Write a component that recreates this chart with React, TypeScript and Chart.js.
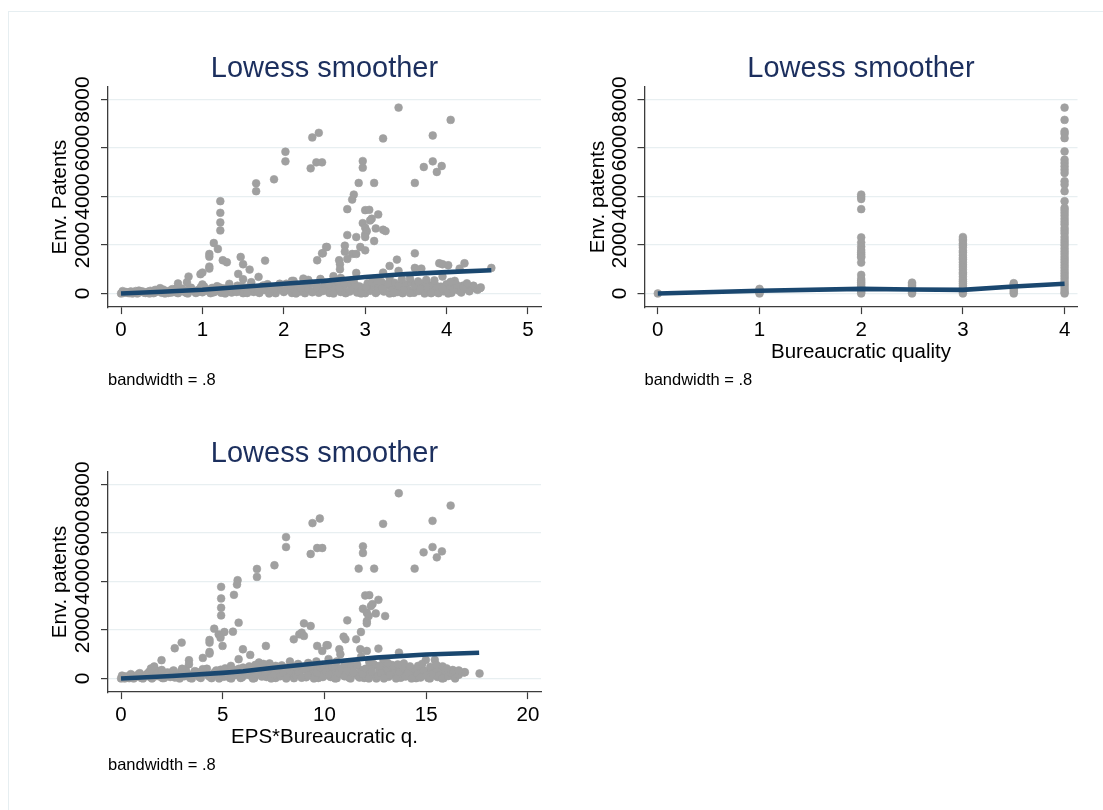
import React, { useEffect, useRef } from 'react';
import { Chart, registerables } from 'chart.js';

Chart.register(...registerables);

const FONT = '"Liberation Sans", Arial, Helvetica, sans-serif';
const NAVY = '#1a476f';
const TITLE_COLOR = '#1c2f5e';
const MARKER = '#a0a0a0';
const AXIS = '#3c3c3c';
const GRID = '#e8eff1';

const titleText = 'Lowess smoother';
const noteText = 'bandwidth = .8';

const patentTicks = [0, 2000, 4000, 6000, 8000];
const epsTicks = [0, 1, 2, 3, 4, 5];
const bqTicks = [0, 1, 2, 3, 4];
const epsBqTicks = [0, 5, 10, 15, 20];

// Panel 1: EPS vs Env. Patents
const epsOutliers: [number, number][] = [
  [1.22, 3809], [1.22, 3329], [1.22, 2932], [1.22, 2603], [1.14, 2082], [1.19, 1836], [1.085, 1630], [1.085, 1520],
  [1.085, 1110], [1.085, 1027], [1.25, 1370], [1.3, 1288], [1.47, 1507], [1.5, 1205], [1.58, 986], [1.44, 808],
  [1.5, 589], [1.77, 1356], [1.66, 4548], [1.66, 4220], [1.88, 4713], [2.02, 5850], [2.02, 5453], [2.35, 6439],
  [2.43, 6631], [2.33, 5165], [2.4, 5412], [2.47, 5412], [2.52, 1918], [2.47, 1658], [2.41, 1370], [0.81, 466],
  [0.83, 699], [0.7, 411], [0.976, 795], [1.0, 863], [1.0, 370], [1.33, 397], [1.69, 685], [1.6, 466], [2.12, 520],
  [2.24, 616], [0.48, 219], [3.41, 7672], [4.05, 7165], [3.22, 6398], [3.83, 6521], [2.97, 5466], [2.97, 5192],
  [3.72, 5220], [3.83, 5453], [3.94, 5261], [3.88, 5014], [2.92, 4562], [3.11, 4562], [3.61, 4562], [2.86, 4083],
  [2.84, 3877], [2.78, 3480], [3.0, 3439], [3.05, 3452], [3.16, 3261], [3.08, 3083], [3.06, 3014], [2.97, 2904],
  [3.0, 2712], [3.02, 2576], [3.0, 2439], [3.13, 2685], [3.22, 2630], [3.25, 2576], [3.0, 2329], [3.11, 2165],
  [2.78, 2411], [2.89, 2329], [2.75, 1973], [2.94, 1918], [3.0, 1781], [2.53, 1918], [2.48, 1658], [2.75, 1726],
  [2.84, 1630], [2.89, 1630], [2.68, 1370], [2.69, 1205], [2.69, 1000], [2.78, 1425], [2.89, 849], [3.39, 1397],
  [3.3, 1137], [3.61, 1658], [3.61, 1055], [3.69, 1027], [3.91, 1247], [3.95, 1205], [4.02, 1164], [4.22, 1247],
  [4.16, 1027], [4.55, 1055], [4.41, 219], [4.21, 274], [2.61, 712], [3.22, 863], [3.41, 932], [3.55, 620],
  [3.75, 560], [3.95, 700], [4.1, 520], [2.3, 560], [2.7, 640], [3.1, 600], [3.3, 650],
  [2.1, 520], [2.45, 600], [2.85, 560], [3.15, 520], [3.45, 580], [3.65, 500], [3.85, 540], [4.05, 480], [4.25, 420],
];
const epsBand: [number, number][] = [
  [0, 0], [0.03, 20], [0.06, 60], [0.1, 10], [0.12, 80], [0.15, 30], [0.18, 100], [0.2, 0], [0.23, 50], [0.26, 90],
  [0.3, 20], [0.33, 70], [0.36, 110], [0.4, 10], [0.43, 60], [0.46, 130], [0.5, 30], [0.52, 160], [0.55, 80],
  [0.58, 20], [0.6, 120], [0.63, 180], [0.66, 60], [0.7, 10], [0.72, 140], [0.75, 200], [0.78, 70], [0.8, 30],
  [0.83, 170], [0.86, 240], [0.9, 90], [0.92, 20], [0.95, 150], [0.98, 260], [1.0, 50], [1.03, 190], [1.06, 110],
  [1.1, 10], [1.12, 230], [1.15, 80], [1.18, 300], [1.2, 150], [1.23, 30], [1.26, 210], [1.3, 100], [1.33, 280],
  [1.36, 40], [1.4, 170], [1.43, 320], [1.46, 90], [1.5, 10], [1.53, 240], [1.56, 130], [1.6, 350], [1.63, 60],
  [1.66, 200], [1.7, 20], [1.73, 290], [1.76, 140], [1.8, 380], [1.83, 70], [1.86, 230], [1.9, 10], [1.93, 320],
  [1.96, 160], [2.0, 60], [2.03, 400], [2.06, 250], [2.1, 20], [2.13, 140], [2.16, 360], [2.2, 80], [2.23, 270],
  [2.26, 10], [2.3, 190], [2.33, 420], [2.36, 100], [2.4, 320], [2.43, 30], [2.46, 230], [2.5, 450], [2.53, 130],
  [2.56, 20], [2.6, 300], [2.63, 180], [2.66, 480], [2.7, 60], [2.73, 260], [2.76, 10], [2.8, 390], [2.83, 150],
  [2.86, 500], [2.9, 40], [2.93, 290], [2.96, 200], [3.0, 10], [3.03, 420], [3.06, 110], [3.1, 340], [3.13, 20],
  [3.16, 230], [3.2, 480], [3.23, 80], [3.26, 310], [3.3, 0], [3.33, 190], [3.36, 440], [3.4, 60], [3.43, 270],
  [3.46, 10], [3.5, 370], [3.53, 150], [3.56, 460], [3.6, 30], [3.63, 250], [3.66, 100], [3.7, 400], [3.73, 0],
  [3.76, 200], [3.8, 330], [3.83, 60], [3.86, 150], [3.9, 10], [3.93, 280], [3.96, 90], [4.0, 380], [4.03, 200],
  [4.06, 30], [4.1, 250], [4.15, 120], [4.2, 320], [4.25, 190], [4.3, 260], [4.35, 210],
];
const epsBandLow: [number, number][] = [
  [0.02, 100], [0.08, 30], [0.14, 0], [0.22, 120], [0.28, 40], [0.35, 0], [0.42, 150], [0.48, 90], [0.54, 0],
  [0.62, 40], [0.68, 210], [0.74, 100], [0.82, 0], [0.88, 130], [0.94, 60], [1.02, 290], [1.08, 160], [1.14, 50],
  [1.21, 250], [1.28, 0], [1.35, 180], [1.42, 60], [1.48, 300], [1.55, 20], [1.62, 210], [1.68, 100], [1.75, 330],
  [1.82, 0], [1.88, 180], [1.95, 400], [2.02, 120], [2.08, 320], [2.15, 0], [2.21, 210], [2.28, 380], [2.35, 50],
  [2.41, 250], [2.48, 100], [2.55, 380], [2.61, 0], [2.68, 230], [2.74, 420], [2.81, 80], [2.88, 330], [2.95, 0],
  [3.01, 260], [3.08, 450], [3.15, 90], [3.21, 200], [3.28, 400], [3.35, 20], [3.41, 330], [3.48, 150], [3.55, 20],
  [3.61, 330], [3.68, 180], [3.75, 420], [3.81, 10], [3.88, 300], [3.95, 200], [4.02, 0], [4.08, 150], [4.12, 360],
  [4.18, 40], [4.23, 200], [4.28, 90], [4.33, 320], [4.38, 150], [4.42, 250],
];
const epsLowess: [number, number][] = [
  [0, 0], [0.5, 70], [1, 150], [1.5, 280], [2, 400], [2.5, 520], [3, 680], [3.5, 800], [4, 880], [4.55, 960],
];

// Panel 2: Bureaucratic quality vs Env. patents
const bqPoints: [number, number][] = [
  [0, 0],
  [1, 0], [1, 40], [1, 90], [1, 150], [1, 190],
  [2, 4083], [2, 3990], [2, 3900], [2, 3480], [2, 2315], [2, 2100], [2, 1932], [2, 1795], [2, 1700], [2, 1617],
  [2, 1540], [2, 1480], [2, 1274], [2, 767], [2, 600], [2, 520], [2, 450], [2, 384], [2, 300], [2, 247], [2, 180],
  [2, 110], [2, 60], [2, 0],
  [2.5, 0], [2.5, 60], [2.5, 120], [2.5, 180], [2.5, 250], [2.5, 320], [2.5, 390], [2.5, 450],
  [3, 2329], [3, 2240], [3, 2170], [3, 2060], [3, 1980], [3, 1890], [3, 1760], [3, 1690], [3, 1580], [3, 1470],
  [3, 1400], [3, 1290], [3, 1180], [3, 1090], [3, 980], [3, 870], [3, 800], [3, 690], [3, 580], [3, 500], [3, 410],
  [3, 320], [3, 230], [3, 140], [3, 70], [3, 0],
  [3.5, 0], [3.5, 70], [3.5, 150], [3.5, 210], [3.5, 300], [3.5, 380], [3.5, 425],
  [4, 7672], [4, 7165], [4, 6685], [4, 6590], [4, 6411], [4, 5864], [4, 5521], [4, 5384], [4, 5247], [4, 5110],
  [4, 4973], [4, 4631], [4, 4494], [4, 4220], [4, 3809], [4, 3535], [4, 3440], [4, 3330], [4, 3210], [4, 3080],
  [4, 2960], [4, 2850], [4, 2700], [4, 2590], [4, 2480], [4, 2330], [4, 2210], [4, 2100], [4, 1990], [4, 1860],
  [4, 1740], [4, 1630], [4, 1510], [4, 1400], [4, 1290], [4, 1170], [4, 1060], [4, 940], [4, 830], [4, 720],
  [4, 610], [4, 490], [4, 380], [4, 270], [4, 160], [4, 60], [4, 0],
];
const bqLowess: [number, number][] = [
  [0, 0], [1, 110], [2, 190], [2.5, 165], [3, 150], [3.5, 290], [4, 400],
];

// Panel 3: EPS*Bureaucratic q. vs Env. patents
const epsBqOutliers: [number, number][] = [
  [4.92, 3781], [4.92, 3302], [4.92, 2918], [4.92, 2603], [4.58, 2055], [4.8, 1822], [4.99, 1343], [4.35, 1589],
  [4.35, 1480], [4.35, 1096], [4.35, 1027], [5.08, 1918], [4.89, 1685], [5.73, 4055], [5.7, 3877], [5.55, 3452],
  [5.78, 2302], [5.5, 1932], [6.68, 4521], [6.68, 4192], [7.54, 4672], [8.11, 5836], [8.11, 5425], [9.41, 6412],
  [9.77, 6603], [9.32, 5137], [9.64, 5384], [9.89, 5384], [2.64, 1247], [2.98, 1480], [1.99, 753], [3.34, 753],
  [3.34, 589], [4.02, 849], [5.99, 1205], [6.35, 973], [5.78, 795], [7.12, 1343], [6.78, 658], [1.47, 411],
  [1.63, 493], [4.02, 384], [8.49, 1617], [8.76, 1822], [8.99, 2274], [8.88, 1890], [8.99, 1754], [9.32, 2165],
  [9.64, 1343], [9.89, 1137], [10.1, 1370], [13.65, 7645], [16.2, 7138], [12.88, 6384], [15.31, 6508],
  [11.89, 5453], [11.89, 5179], [14.87, 5206], [15.31, 5425], [15.77, 5247], [15.52, 5000], [11.68, 4535],
  [12.44, 4535], [14.43, 4535], [12.0, 3425], [12.2, 3439], [12.65, 3247], [12.36, 3069], [12.28, 2987],
  [11.89, 2877], [12.08, 2713], [12.17, 2576], [12.08, 2370], [12.08, 2274], [12.52, 2685], [12.98, 2576],
  [11.12, 2398], [11.79, 1918], [11.56, 1617], [10.94, 1726], [11.03, 1617], [10.16, 1370], [10.73, 1205],
  [10.78, 1000], [11.76, 1205], [12.08, 1137], [12.65, 1233], [13.66, 1069], [14.98, 767], [15.42, 767],
  [16.86, 247], [17.62, 205], [9.6, 700], [10.2, 800], [10.5, 550], [11.3, 650], [11.8, 900], [12.4, 600],
  [12.9, 750], [13.3, 560], [13.9, 620], [14.6, 520], [15.2, 480], [15.8, 500], [16.3, 350], [8.7, 600],
  [8.3, 700], [7.6, 520], [7.0, 600], [6.3, 500], [3.0, 400], [2.0, 350],
  [5.4, 520], [6.0, 450], [6.6, 560], [7.3, 620], [7.9, 540], [8.6, 480], [9.2, 640], [9.9, 560], [10.6, 700],
  [11.0, 600], [11.6, 580], [12.2, 680], [12.7, 520], [13.1, 640], [13.6, 580], [14.2, 500], [14.8, 600],
  [15.5, 560], [16.0, 420], [16.6, 330],
];
const epsBqBand: [number, number][] = [
  [0, 0], [0.1, 40], [0.25, 90], [0.4, 10], [0.55, 130], [0.7, 60], [0.85, 170], [1.0, 20], [1.15, 110], [1.3, 200],
  [1.45, 50], [1.6, 150], [1.75, 240], [1.9, 80], [2.05, 10], [2.2, 190], [2.35, 120], [2.5, 260], [2.65, 40],
  [2.8, 170], [2.95, 300], [3.1, 90], [3.25, 220], [3.4, 20], [3.55, 150], [3.7, 280], [3.85, 60], [4.0, 200],
  [4.15, 330], [4.3, 110], [4.45, 10], [4.6, 250], [4.75, 160], [4.9, 360], [5.05, 70], [5.2, 220], [5.35, 20],
  [5.5, 300], [5.65, 140], [5.8, 400], [5.95, 50], [6.1, 240], [6.25, 330], [6.4, 100], [6.55, 10], [6.7, 280],
  [6.85, 180], [7.0, 420], [7.15, 60], [7.3, 230], [7.45, 350], [7.6, 20], [7.75, 150], [7.9, 300], [8.05, 440],
  [8.2, 90], [8.35, 220], [8.5, 10], [8.65, 370], [8.8, 160], [8.95, 480], [9.1, 50], [9.25, 280], [9.4, 190],
  [9.55, 400], [9.7, 20], [9.85, 320], [10.0, 120], [10.15, 450], [10.3, 60], [10.45, 250], [10.6, 10],
  [10.75, 380], [10.9, 170], [11.05, 300], [11.2, 40], [11.35, 460], [11.5, 200], [11.65, 100], [11.8, 350],
  [11.95, 20], [12.1, 270], [12.25, 420], [12.4, 130], [12.55, 0], [12.7, 330], [12.85, 210], [13.0, 470],
  [13.15, 70], [13.3, 290], [13.45, 150], [13.6, 400], [13.75, 30], [13.9, 240], [14.05, 360], [14.2, 90],
  [14.35, 180], [14.5, 10], [14.65, 300], [14.8, 120], [14.95, 230], [15.1, 20], [15.25, 340], [15.4, 150],
  [15.55, 60], [15.7, 270], [15.85, 10], [16.0, 200], [16.15, 300], [16.3, 110], [16.5, 230], [16.9, 260],
];
const epsBqBandLow: [number, number][] = [
  [0.05, 120], [0.18, 0], [0.32, 60], [0.48, 180], [0.62, 0], [0.78, 100], [0.92, 220], [1.08, 0], [1.22, 140],
  [1.38, 270], [1.52, 0], [1.68, 90], [1.82, 300], [1.98, 160], [2.12, 20], [2.28, 250], [2.42, 60], [2.58, 330],
  [2.72, 100], [2.88, 0], [3.02, 240], [3.18, 370], [3.32, 120], [3.48, 0], [3.62, 300], [3.78, 180], [3.92, 20],
  [4.08, 260], [4.22, 400], [4.38, 60], [4.52, 170], [4.68, 330], [4.82, 0], [4.98, 240], [5.12, 420], [5.28, 110],
  [5.42, 0], [5.58, 350], [5.72, 200], [5.88, 20], [6.02, 330], [6.18, 150], [6.32, 430], [6.48, 0], [6.62, 200],
  [6.78, 360], [6.92, 80], [7.08, 260], [7.22, 480], [7.38, 0], [7.52, 180], [7.68, 380], [7.82, 90], [7.98, 250],
  [8.12, 0], [8.28, 330], [8.42, 500], [8.58, 140], [8.72, 250], [8.88, 30], [9.02, 380], [9.18, 120], [9.32, 520],
  [9.48, 0], [9.62, 240], [9.78, 450], [9.92, 60], [10.08, 300], [10.22, 150], [10.38, 500], [10.52, 0],
  [10.68, 230], [10.82, 420], [10.98, 90], [11.12, 330], [11.28, 0], [11.42, 250], [11.58, 520], [11.72, 40],
  [11.88, 180], [12.02, 400], [12.18, 0], [12.32, 300], [12.48, 540], [12.62, 100], [12.78, 230], [12.92, 0],
  [13.08, 380], [13.22, 160], [13.38, 520], [13.52, 0], [13.68, 280], [13.82, 450], [13.98, 80], [14.12, 250],
  [14.28, 0], [14.42, 380], [14.58, 200], [14.72, 40], [14.88, 330], [15.02, 140], [15.18, 0], [15.32, 230],
  [15.48, 400], [15.62, 110], [15.78, 0], [15.92, 300], [16.08, 100], [16.22, 240], [16.42, 0], [16.6, 150],
];
const epsBqLowess: [number, number][] = [
  [0, 0], [2.5, 100], [5, 230], [6, 300], [7.5, 440], [10, 660], [12.5, 860], [15, 990], [17.6, 1060],
];

const rotatedYTicks = {
  id: 'rotatedYTicks',
  afterDraw(chart: any, _args: any, opts: any) {
    const s = chart.scales.y;
    const ctx = chart.ctx;
    ctx.save();
    ctx.font = `${opts.size}px ${FONT}`;
    ctx.fillStyle = opts.color;
    ctx.textAlign = 'center';
    ctx.textBaseline = 'alphabetic';
    s.ticks.forEach((t: any) => {
      const y = s.getPixelForValue(t.value);
      ctx.save();
      ctx.translate(s.right - opts.offset, y);
      ctx.rotate(-Math.PI / 2);
      ctx.fillText(String(t.label), 0, 0);
      ctx.restore();
    });
    ctx.restore();
  },
};

type PanelSpec = {
  left: number;
  top: number;
  width: number;
  height: number;
  points: [number, number][];
  line: [number, number][];
  xTicks: number[];
  xMin: number;
  xMax: number;
  xTitle: string;
  yTitle: string;
  yWidth: number;
  padRight: number;
  yTitlePad: number;
};

function makeConfig(p: PanelSpec): any {
  return {
    type: 'scatter',
    data: {
      datasets: [
        {
          data: p.line.map(([x, y]) => ({ x, y })),
          showLine: true,
          borderColor: NAVY,
          backgroundColor: NAVY,
          borderWidth: 4.6,
          pointRadius: 0,
          pointHoverRadius: 0,
          tension: 0,
          order: 0,
        },
        {
          data: p.points.map(([x, y]) => ({ x, y })),
          backgroundColor: MARKER,
          borderColor: MARKER,
          pointRadius: 3.9,
          pointHoverRadius: 3.9,
          pointBorderWidth: 0.6,
          order: 1,
        },
      ],
    },
    options: {
      animation: false,
      responsive: false,
      events: [],
      layout: { padding: { top: 31.6, bottom: 9.9, left: 0, right: p.padRight } },
      plugins: {
        legend: { display: false },
        tooltip: { enabled: false },
        title: {
          display: true,
          text: titleText,
          color: TITLE_COLOR,
          fullSize: false,
          font: { family: FONT, size: 29, lineHeight: 1.2, weight: 'normal' },
          padding: { top: 0, bottom: 0.6 },
        },
        subtitle: {
          display: true,
          position: 'bottom',
          align: 'start',
          fullSize: false,
          text: noteText,
          color: '#000',
          font: { family: FONT, size: 16.5, lineHeight: 1.2, weight: 'normal' },
          padding: { top: 5.2, bottom: 0 },
        },
        rotatedYTicks: { size: 20.8, color: '#000', offset: 18.7 },
      },
      scales: {
        x: {
          type: 'linear',
          min: p.xMin,
          max: p.xMax,
          afterBuildTicks: (s: any) => {
            s.ticks = p.xTicks.map((v) => ({ value: v }));
          },
          afterFit: (s: any) => {
            s.height = 58;
          },
          grid: { drawOnChartArea: false, drawTicks: true, tickLength: 7, tickColor: AXIS, tickWidth: 1.2 },
          border: { display: true, color: AXIS, width: 1.3 },
          ticks: {
            color: '#000',
            font: { family: FONT, size: 20.5, lineHeight: 1.2 },
            padding: 4.2,
            maxRotation: 0,
            minRotation: 0,
            autoSkip: false,
            callback: (v: any) => String(v),
          },
          title: {
            display: true,
            text: p.xTitle,
            color: '#000',
            font: { family: FONT, size: 20.5, lineHeight: 1.2 },
            padding: { top: 0, bottom: 0 },
          },
        },
        y: {
          type: 'linear',
          min: -563,
          max: 8522,
          afterBuildTicks: (s: any) => {
            s.ticks = patentTicks.map((v) => ({ value: v }));
          },
          afterFit: (s: any) => {
            s.width = p.yWidth;
          },
          grid: { color: GRID, lineWidth: 1.2, drawTicks: true, tickLength: 7, tickColor: AXIS, tickWidth: 1.2 },
          border: { display: true, color: AXIS, width: 1.3 },
          ticks: { display: false, callback: (v: any) => String(v) },
          title: {
            display: true,
            text: p.yTitle,
            color: '#000',
            font: { family: FONT, size: 20.5, lineHeight: 1.2 },
            padding: { top: p.yTitlePad, bottom: 0 },
          },
        },
      },
    },
    plugins: [rotatedYTicks],
  };
}

const panels: PanelSpec[] = [
  {
    left: 10, top: 20, width: 540, height: 380,
    points: [...epsBand, ...epsBandLow, ...epsOutliers], line: epsLowess,
    xTicks: epsTicks, xMin: -0.16, xMax: 5.16, xTitle: 'EPS', yTitle: 'Env. Patents',
    yWidth: 98, padRight: 9, yTitlePad: 38.5,
  },
  {
    left: 550, top: 20, width: 540, height: 380,
    points: bqPoints, line: bqLowess,
    xTicks: bqTicks, xMin: -0.131, xMax: 4.127, xTitle: 'Bureaucratic quality', yTitle: 'Env. patents',
    yWidth: 94.5, padRight: 12.5, yTitlePad: 36,
  },
  {
    left: 10, top: 405.3, width: 540, height: 380,
    points: [...epsBqBand, ...epsBqBandLow, ...epsBqOutliers], line: epsBqLowess,
    xTicks: epsBqTicks, xMin: -0.64, xMax: 20.64, xTitle: 'EPS*Bureaucratic q.', yTitle: 'Env. patents',
    yWidth: 98, padRight: 9, yTitlePad: 38.5,
  },
];

function Panel({ spec }: { spec: PanelSpec }) {
  const ref = useRef<HTMLCanvasElement | null>(null);
  useEffect(() => {
    if (!ref.current) return;
    const chart = new Chart(ref.current, makeConfig(spec));
    return () => chart.destroy();
  }, [spec]);
  return (
    <canvas
      ref={ref}
      width={spec.width}
      height={spec.height}
      style={{ position: 'absolute', left: spec.left, top: spec.top, width: spec.width, height: spec.height }}
    />
  );
}

export default function App() {
  return (
    <div style={{ position: 'absolute', left: 0, top: 0, width: 1103, height: 810, background: '#fff', overflow: 'hidden' }}>
      <div
        style={{
          position: 'absolute', left: 8, top: 11, width: 1110, height: 820,
          borderTop: '1px solid #e6eef1', borderLeft: '1px solid #e6eef1',
        }}
      />
      {panels.map((p, i) => (
        <Panel key={i} spec={p} />
      ))}
    </div>
  );
}
